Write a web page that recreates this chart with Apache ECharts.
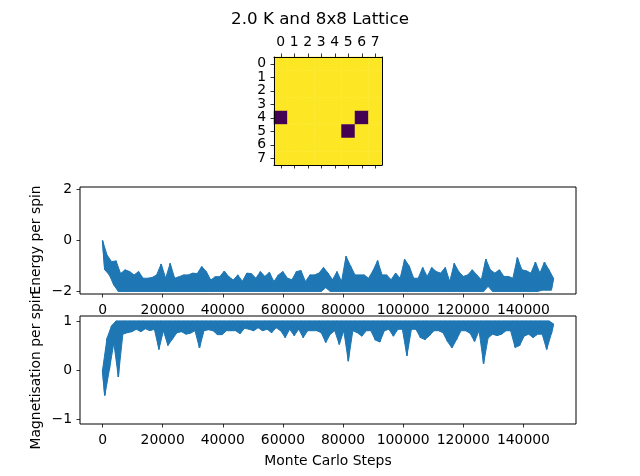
<!DOCTYPE html>
<html>
<head>
<meta charset="utf-8">
<script src="https://cdn.jsdelivr.net/npm/echarts@6/dist/echarts.min.js"></script>
<style>
  html, body { margin: 0; background: #fff; }
  #main { width: 640px; height: 476px; }
</style>
</head>
<body>
<div id="main"></div>
<script>
// lattice spins (row by row), +1 / -1
const latticeLabels = ['0', '1', '2', '3', '4', '5', '6', '7'];
const lattice = [
  [1, 1, 1, 1, 1, 1, 1, 1],
  [1, 1, 1, 1, 1, 1, 1, 1],
  [1, 1, 1, 1, 1, 1, 1, 1],
  [1, 1, 1, 1, 1, 1, 1, 1],
  [-1, 1, 1, 1, 1, 1, -1, 1],
  [1, 1, 1, 1, 1, -1, 1, 1],
  [1, 1, 1, 1, 1, 1, 1, 1],
  [1, 1, 1, 1, 1, 1, 1, 1]
];

// traces: one sample every 1500 steps,
// high = top of the noise band, low = bottom of the band half a sample later
const sampleStep = 1500;
const energyHigh = [
  0.0, -0.57, -0.83, -0.8, -1.3, -1.15, -1.22, -1.35, -1.22, -1.48,
  -1.48, -1.45, -1.35, -0.92, -1.48, -0.9, -1.48, -1.42, -1.35, -1.35,
  -1.28, -1.3, -1.02, -1.22, -1.55, -1.42, -1.42, -1.2, -1.42, -1.55,
  -1.35, -1.6, -1.28, -1.3, -1.48, -1.22, -1.41, -1.25, -1.61, -1.35,
  -1.22, -1.48, -1.54, -1.22, -1.18, -1.61, -1.35, -1.35, -1.28, -1.06,
  -1.28, -1.54, -1.22, -1.61, -0.62, -1.0, -1.35, -1.35, -1.35, -1.48,
  -1.18, -0.79, -1.35, -1.35, -1.54, -1.28, -1.48, -0.74, -1.0, -1.48,
  -1.48, -1.06, -1.41, -1.06, -1.22, -1.28, -1.06, -1.61, -0.9, -1.22,
  -1.41, -1.35, -1.15, -1.35, -1.54, -0.73, -1.15, -1.28, -1.15, -1.41,
  -1.41, -1.48, -0.67, -1.15, -1.19, -1.28, -0.85, -1.28, -0.85, -1.15,
  -1.48
];
const energyLow = [
  -1.15, -1.35, -1.75, -2, -2, -2, -2, -2, -2, -2,
  -2, -2, -2, -2, -2, -2, -2, -2, -2, -2,
  -2, -2, -2, -2, -2, -2, -2, -2, -2, -2,
  -2, -2, -2, -2, -2, -2, -2, -2, -2, -2,
  -2, -2, -2, -2, -2, -2, -2, -2, -2, -1.85,
  -2, -2, -2, -2, -2, -2, -2, -2, -2, -2,
  -2, -2, -2, -2, -2, -2, -2, -2, -2, -2,
  -2, -2, -2, -2, -2, -2, -2, -2, -2, -2,
  -2, -2, -2, -2, -2, -1.8, -2, -2, -2, -2,
  -2, -2, -2, -2, -2, -2, -2, -1.95, -1.95, -1.95
];
const magHigh = [
  0.0, 0.65, 0.9, 1.0, 1.0, 1.0, 1.0, 1.0, 1.0, 1.0,
  1.0, 1.0, 1.0, 1.0, 1.0, 1.0, 1.0, 1.0, 1.0, 1.0,
  1.0, 1.0, 1.0, 1.0, 1.0, 1.0, 1.0, 1.0, 1.0, 1.0,
  1.0, 1.0, 1.0, 1.0, 1.0, 1.0, 1.0, 1.0, 1.0, 1.0,
  1.0, 1.0, 1.0, 1.0, 1.0, 1.0, 1.0, 1.0, 1.0, 1.0,
  1.0, 1.0, 1.0, 1.0, 1.0, 1.0, 1.0, 1.0, 1.0, 1.0,
  1.0, 1.0, 1.0, 1.0, 1.0, 1.0, 1.0, 1.0, 1.0, 1.0,
  1.0, 1.0, 1.0, 1.0, 1.0, 1.0, 1.0, 1.0, 1.0, 1.0,
  1.0, 1.0, 1.0, 1.0, 1.0, 1.0, 1.0, 1.0, 1.0, 1.0,
  1.0, 1.0, 1.0, 1.0, 1.0, 1.0, 1.0, 1.0, 1.0, 1.0,
  0.94
];
const magLow = [
  -0.52, 0.0, 0.55, -0.14, 0.73, 0.76, 0.78, 0.83, 0.78, 0.84,
  0.8, 0.83, 0.42, 0.8, 0.5, 0.63, 0.76, 0.78, 0.73, 0.75,
  0.8, 0.45, 0.8, 0.82, 0.8, 0.72, 0.72, 0.8, 0.8, 0.8,
  0.74, 0.85, 0.83, 0.8, 0.86, 0.8, 0.83, 0.76, 0.86, 0.8,
  0.66, 0.83, 0.7, 0.83, 0.66, 0.8, 0.8, 0.8, 0.76, 0.56,
  0.73, 0.8, 0.52, 0.8, 0.18, 0.8, 0.76, 0.69, 0.8, 0.8,
  0.61, 0.57, 0.8, 0.83, 0.69, 0.83, 0.83, 0.29, 0.83, 0.83,
  0.66, 0.62, 0.7, 0.8, 0.8, 0.76, 0.58, 0.45, 0.62, 0.8,
  0.8, 0.75, 0.58, 0.8, 0.13, 0.65, 0.73, 0.7, 0.73, 0.8,
  0.8, 0.46, 0.5, 0.69, 0.73, 0.66, 0.73, 0.73, 0.42, 0.73
];

const stepTicks = [0, 20000, 40000, 60000, 80000, 100000, 120000, 140000];
const energyTicks = [-2, 0, 2];
const magTicks = [-1, 0, 1];

const font = 'DejaVu Sans';
const black = '#000';
const lineBlue = '#1f77b4';

// alternate top / bottom of the band so the trace looks dense
function zigzag(high, low) {
  let pts = [];
  for (let i = 0; i < high.length; i++) {
    pts.push([i * sampleStep, high[i]]);
    if (i < low.length) pts.push([i * sampleStep + sampleStep / 2, low[i]]);
  }
  return pts;
}

// fill between the two envelopes, mapped through the axes
function bandRender(high, low) {
  return function (params, api) {
    let pts = [];
    for (let i = 0; i < high.length; i++) {
      pts.push(api.coord([i * sampleStep, high[i]]));
    }
    for (let i = low.length - 1; i >= 0; i--) {
      pts.push(api.coord([i * sampleStep + sampleStep / 2, low[i]]));
    }
    return {
      type: 'polygon',
      shape: { points: pts },
      style: { fill: lineBlue, stroke: lineBlue, lineWidth: 1 }
    };
  };
}

let heatData = [];
for (let r = 0; r < lattice.length; r++) {
  for (let c = 0; c < lattice[r].length; c++) {
    heatData.push([c, r, lattice[r][c]]);
  }
}

const minus = v => (v < 0 ? '\u2212' + Math.abs(v) : String(v));
const labelText = { color: black, fontFamily: font, fontSize: 13.9 };
const tickStyle = { length: 3.5, lineStyle: { color: black, width: 0.8 } };

const catAxis = (pos, showLabel, showTick) => ({
  gridIndex: 0,
  type: 'category',
  data: latticeLabels,
  position: pos,
  z: 5,
  axisLine: { show: true, onZero: false, lineStyle: { color: black, width: 1 } },
  axisTick: { show: showTick, interval: 0, alignWithLabel: true, ...tickStyle },
  axisLabel: { show: showLabel, interval: 0, margin: 8, ...labelText },
  splitLine: { show: false }
});

const stepAxis = (grid) => ({
  gridIndex: grid,
  type: 'value',
  min: -7500,
  max: 157500,
  axisLine: { show: false, onZero: false },
  axisTick: { show: true, customValues: stepTicks, ...tickStyle },
  axisLabel: { customValues: stepTicks, margin: 9, formatter: v => String(v), ...labelText },
  splitLine: { show: false }
});

const valueAxis = (grid, lo, hi, ticks) => ({
  gridIndex: grid,
  type: 'value',
  min: lo,
  max: hi,
  axisLine: { show: false, onZero: false },
  axisTick: { show: true, customValues: ticks, ...tickStyle },
  axisLabel: { customValues: ticks, margin: 8, formatter: minus, ...labelText },
  splitLine: { show: false }
});

const xLast = stepAxis(2);
xLast.name = 'Monte Carlo Steps';
xLast.nameLocation = 'middle';
xLast.nameGap = 30;
xLast.nameTextStyle = labelText;

let chart = echarts.init(document.getElementById('main'));
chart.setOption({
  animation: false,
  backgroundColor: '#fff',
  title: {
    text: '2.0 K and 8x8 Lattice',
    left: 'center',
    top: 6,
    textStyle: { color: black, fontFamily: font, fontSize: 16.7, fontWeight: 'normal' }
  },
  grid: [
    { left: 274, top: 57, width: 108, height: 108 },
    { left: 80, top: 187, width: 496, height: 107, show: true, borderColor: black, borderWidth: 1, backgroundColor: 'transparent' },
    { left: 80, top: 316, width: 496, height: 108, show: true, borderColor: black, borderWidth: 1, backgroundColor: 'transparent' }
  ],
  xAxis: [
    catAxis('top', true, true),
    catAxis('bottom', false, true),
    stepAxis(1),
    xLast
  ],
  yAxis: [
    Object.assign(catAxis('left', true, true), { inverse: true }),
    Object.assign(catAxis('right', false, false), { inverse: true }),
    valueAxis(1, -2.1, 2.1, energyTicks),
    valueAxis(2, -1.1, 1.1, magTicks)
  ],
  visualMap: {
    show: false,
    seriesIndex: 0,
    min: -1,
    max: 1,
    inRange: { color: ['#440154', '#fde725'] }
  },
  graphic: [
    {
      type: 'text', x: 36, y: 240, rotation: Math.PI / 2,
      style: { text: 'Energy per spin', fill: black, font: '13.9px "DejaVu Sans"', align: 'center', verticalAlign: 'middle' }
    },
    {
      type: 'text', x: 36, y: 370, rotation: Math.PI / 2,
      style: { text: 'Magnetisation per spin', fill: black, font: '13.9px "DejaVu Sans"', align: 'center', verticalAlign: 'middle' }
    }
  ],
  series: [
    {
      type: 'heatmap',
      xAxisIndex: 0,
      yAxisIndex: 0,
      data: heatData,
      emphasis: { disabled: true }
    },
    {
      type: 'custom',
      xAxisIndex: 2,
      yAxisIndex: 2,
      data: [[0, -2]],
      renderItem: bandRender(energyHigh, energyLow),
      silent: true
    },
    {
      type: 'custom',
      xAxisIndex: 3,
      yAxisIndex: 3,
      data: [[0, 1]],
      renderItem: bandRender(magHigh, magLow),
      silent: true
    },
    {
      name: 'Energy per spin',
      type: 'line',
      xAxisIndex: 2,
      yAxisIndex: 2,
      data: zigzag(energyHigh, energyLow),
      symbol: 'none',
      lineStyle: { color: lineBlue, width: 1.5 }
    },
    {
      name: 'Magnetisation per spin',
      type: 'line',
      xAxisIndex: 3,
      yAxisIndex: 3,
      data: zigzag(magHigh, magLow),
      symbol: 'none',
      lineStyle: { color: lineBlue, width: 1.5 }
    }
  ]
});
</script>
</body>
</html>
